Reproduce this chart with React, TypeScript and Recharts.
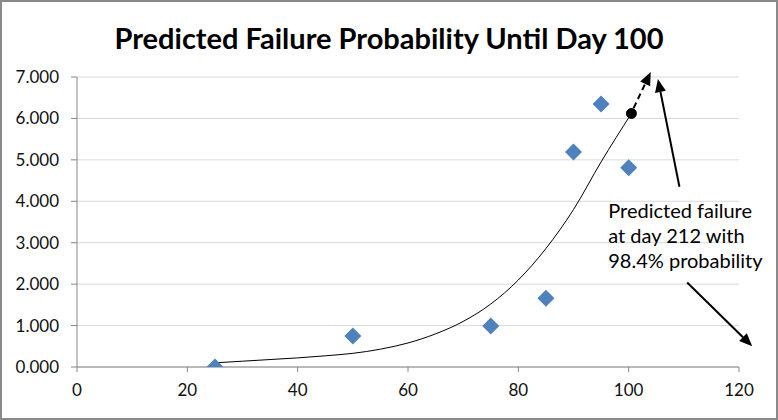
import React from 'react';
import {
  ComposedChart, Line, Scatter, XAxis, YAxis, CartesianGrid, ReferenceLine, ReferenceDot,
} from 'recharts';

// observed failure probabilities (day, value)
const obsDays = [25, 50, 75, 85, 90, 95, 100];
const obsValues = [0.0, 0.75, 0.99, 1.66, 5.19, 6.35, 4.81];

// exponential trend line
const trendDays = [25, 30, 35, 40, 45, 50, 55, 60, 65, 70, 75, 80, 85, 90, 95, 100.5];
const trendValues = [0.1, 0.14, 0.18, 0.22, 0.27, 0.33, 0.43, 0.58, 0.8, 1.1, 1.52, 2.1, 2.86, 3.8, 4.95, 6.12];

const xTicks = [0, 20, 40, 60, 80, 100, 120];
const yTicks = [0, 1, 2, 3, 4, 5, 6, 7];

// prediction point + arrows (from -> to, in data units)
const predPoint = { x: 100.5, y: 6.12 };
const dashedArrow = [{ x: 100.9, y: 6.25 }, { x: 104, y: 7.12 }];
const upArrow = [{ x: 109.2, y: 4.35 }, { x: 105.3, y: 6.95 }];
const downArrow = [{ x: 110.6, y: 2.04 }, { x: 122.4, y: 0.5 }];
const noteLines = ['Predicted failure', 'at day 212 with', '98.4% probability'];

const FONT = 'Lato, "Open Sans", sans-serif';

const obsData = obsDays.map((d, i) => ({ x: d, y: obsValues[i] }));
const trendData = trendDays.map((d, i) => ({ x: d, y: trendValues[i] }));

const Diamond = (p: any) => {
  const { cx, cy } = p;
  if (cx == null || cy == null) return null;
  const r = 8.5;
  return (
    <polygon
      points={`${cx},${cy - r} ${cx + r},${cy} ${cx},${cy + r} ${cx - r},${cy}`}
      fill="#4F81BD"
    />
  );
};

const arrowShape = (dashed: boolean) => (p: any) => {
  const { x1, y1, x2, y2 } = p;
  if ([x1, y1, x2, y2].some(v => v == null || isNaN(v))) return null;
  const ang = Math.atan2(y2 - y1, x2 - x1);
  const len = 13, half = 5.5;
  const bx = x2 - len * Math.cos(ang), by = y2 - len * Math.sin(ang);
  const nx = -Math.sin(ang), ny = Math.cos(ang);
  return (
    <g>
      <line x1={x1} y1={y1} x2={bx} y2={by} stroke="#000" strokeWidth={2}
        strokeDasharray={dashed ? '6 4' : undefined} />
      <polygon
        points={`${x2},${y2} ${bx + nx * half},${by + ny * half} ${bx - nx * half},${by - ny * half}`}
        fill="#000"
      />
    </g>
  );
};

const Note = (p: any) => {
  const { cx, cy } = p;
  if (cx == null || cy == null) return null;
  return (
    <text x={cx} y={cy} fontFamily={FONT} fontSize={20} fill="#000">
      {noteLines.map((t, i) => (
        <tspan key={t} x={cx} dy={i === 0 ? 0 : 25}>{t}</tspan>
      ))}
    </text>
  );
};

export default function App() {
  return (
    <div style={{
      position: 'absolute', left: 0, top: 0, width: 778, height: 420,
      border: '2px solid #8a8a8a', boxSizing: 'border-box', background: '#fff',
    }}>
      <div style={{
        position: 'absolute', left: 0, right: 0, top: 19, textAlign: 'center',
        fontFamily: FONT, fontWeight: 700, fontSize: 29, lineHeight: '34px', color: '#000',
      }}>
        Predicted Failure Probability Until Day 100
      </div>
      <ComposedChart width={774} height={416} margin={{ top: 75, right: 37, bottom: 21, left: 0 }}>
        <CartesianGrid vertical={false} stroke="#d9d9d9" />
        <XAxis type="number" dataKey="x" domain={[0, 120]} ticks={xTicks} height={30}
          allowDataOverflow tickSize={5} tickMargin={12}
          stroke="#868686" tick={{ fill: '#111', fontSize: 17, fontFamily: FONT }} />
        <YAxis type="number" dataKey="y" domain={[0, 7]} ticks={yTicks} width={75}
          allowDataOverflow tickSize={6} tickMargin={12}
          tickFormatter={(v: number) => v.toFixed(3)}
          stroke="#868686" tick={{ fill: '#111', fontSize: 17, fontFamily: FONT }} />
        <Line data={trendData} dataKey="y" type="monotone" stroke="#000" strokeWidth={1}
          dot={false} isAnimationActive={false} />
        <Scatter data={obsData} dataKey="y" shape={Diamond} isAnimationActive={false} />
        <ReferenceDot x={predPoint.x} y={predPoint.y} r={5} fill="#000" stroke="#000" />
        <ReferenceLine segment={dashedArrow} ifOverflow="visible" shape={arrowShape(true)} />
        <ReferenceLine segment={upArrow} ifOverflow="visible" shape={arrowShape(false)} />
        <ReferenceLine segment={downArrow} ifOverflow="visible" shape={arrowShape(false)} />
        <ReferenceDot x={96.3} y={3.6} ifOverflow="visible" shape={Note} />
      </ComposedChart>
    </div>
  );
}
